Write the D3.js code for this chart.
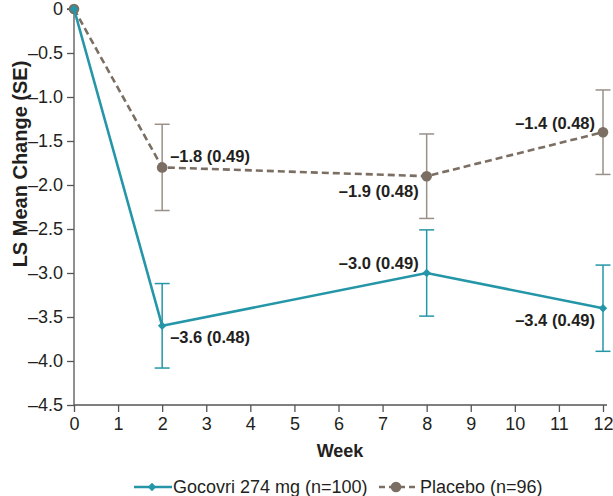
<!DOCTYPE html>
<html><head><meta charset="utf-8">
<script src="https://cdn.jsdelivr.net/npm/d3@7"></script>
<style>body{margin:0;background:#fff}svg{display:block;font-family:"Liberation Sans",Arial,sans-serif}</style>
</head><body><svg id="c" width="613" height="496"></svg>
<script>
const weeks = [0, 2, 8, 12];
const gocovriMean = [0, -3.6, -3.0, -3.4];
const gocovriSE = [null, 0.48, 0.49, 0.49];
const placeboMean = [0, -1.8, -1.9, -1.4];
const placeboSE = [null, 0.49, 0.48, 0.48];
const xTicks = d3.range(0, 13);
const yTicks = [0, -0.5, -1.0, -1.5, -2.0, -2.5, -3.0, -3.5, -4.0, -4.5];
const seriesNames = ["Gocovri 274 mg (n=100)", "Placebo (n=96)"];

const teal = "#2596a7", brown = "#7b6f63", brownLight = "#9a9088", ink = "#231f20";
const svg = d3.select("#c");
const x = d3.scaleLinear().domain([0, 12]).range([74, 603]);
const y = d3.scaleLinear().domain([0, -4.5]).range([9, 405]);
const fmt = v => v === 0 ? "0" : d3.format(".1f")(v).replace("-", "\u2013").replace("\u2212", "\u2013");

// axes
const yAxis = svg.append("g").attr("transform", "translate(74,0)")
  .call(d3.axisLeft(y).tickValues(yTicks).tickFormat(fmt).tickSize(7).tickPadding(4));
const xAxis = svg.append("g").attr("transform", "translate(0,405)")
  .call(d3.axisBottom(x).tickValues(xTicks).tickFormat(d3.format("d")).tickSize(7).tickPadding(5));
[yAxis, xAxis].forEach(a => {
  a.select(".domain").attr("stroke", "#555").attr("stroke-width", 1.3);
  a.selectAll(".tick line").attr("stroke", "#555").attr("stroke-width", 1.3);
  a.selectAll("text").attr("font-size", 18).attr("fill", ink).attr("font-family", "Liberation Sans, Arial, sans-serif");
});
yAxis.select(".domain").attr("d", "M-7,9H0V405");
xAxis.select(".domain").attr("d", "M74,0H607");

svg.append("text").attr("transform", "translate(27,164) rotate(-90)").attr("text-anchor", "middle")
  .attr("font-weight", "bold").attr("font-size", 20).attr("fill", ink).text("LS Mean Change (SE)");
svg.append("text").attr("x", 340).attr("y", 456.5).attr("text-anchor", "middle")
  .attr("font-weight", "bold").attr("font-size", 18).attr("fill", ink).text("Week");

function series(mean, se, color, ebColor, dashed, marker, labels) {
  const pts = weeks.map((w, i) => ({w, m: mean[i], s: se[i], i}));
  const g = svg.append("g");
  pts.filter(p => p.s != null).forEach(p => {
    const px = x(p.w), y1 = y(p.m + p.s), y2 = y(p.m - p.s);
    g.append("line").attr("x1", px).attr("x2", px).attr("y1", y1).attr("y2", y2).attr("stroke", ebColor).attr("stroke-width", 1.5);
    [y1, y2].forEach(yy => g.append("line").attr("x1", px - 7.5).attr("x2", px + 7.5).attr("y1", yy).attr("y2", yy).attr("stroke", ebColor).attr("stroke-width", 1.5));
  });
  g.append("path").datum(pts).attr("fill", "none").attr("stroke", color).attr("stroke-width", 2.6)
    .attr("stroke-dasharray", dashed ? "7,4" : null)
    .attr("d", d3.line().x(p => x(p.w)).y(p => y(p.m)));
  pts.forEach(p => {
    if (marker === "diamond") {
      g.append("path").attr("d", d3.symbol(d3.symbolDiamond2, 45)()).attr("transform", `translate(${x(p.w)},${y(p.m)})`).attr("fill", color);
    } else {
      g.append("circle").attr("cx", x(p.w)).attr("cy", y(p.m)).attr("r", 5.3).attr("fill", color);
    }
  });
  pts.filter(p => p.s != null).forEach(p => {
    const L = labels[p.i];
    g.append("text").attr("x", x(p.w) + L[0]).attr("y", y(p.m) + L[1]).attr("dy", "0.35em")
      .attr("text-anchor", L[2]).attr("font-weight", "bold").attr("font-size", 16.5).attr("fill", ink)
      .text(`${fmt(p.m)} (${p.s.toFixed(2)})`);
  });
}
series(placeboMean, placeboSE, brown, brownLight, true, "circle",
  [null, [8, -11, "start"], [-8, 15, "end"], [-8, -9, "end"]]);
series(gocovriMean, gocovriSE, teal, teal, false, "diamond",
  [null, [8, 11, "start"], [-8, -10, "end"], [-8, 12, "end"]]);

// legend
const ly = 487;
const lg = svg.append("g");
lg.append("line").attr("x1", 134).attr("x2", 172).attr("y1", ly).attr("y2", ly).attr("stroke", teal).attr("stroke-width", 2.6);
lg.append("path").attr("d", d3.symbol(d3.symbolDiamond2, 45)()).attr("transform", `translate(152,${ly})`).attr("fill", teal);
lg.append("text").attr("x", 173).attr("y", ly).attr("dy", "0.35em").attr("font-size", 18).attr("fill", ink).text(seriesNames[0]);
lg.append("line").attr("x1", 379).attr("x2", 416).attr("y1", ly).attr("y2", ly).attr("stroke", brown).attr("stroke-width", 2.6).attr("stroke-dasharray", "6,4");
lg.append("circle").attr("cx", 396).attr("cy", ly).attr("r", 5.3).attr("fill", brown);
lg.append("text").attr("x", 420).attr("y", ly).attr("dy", "0.35em").attr("font-size", 18).attr("fill", ink).text(seriesNames[1]);
</script></body></html>
